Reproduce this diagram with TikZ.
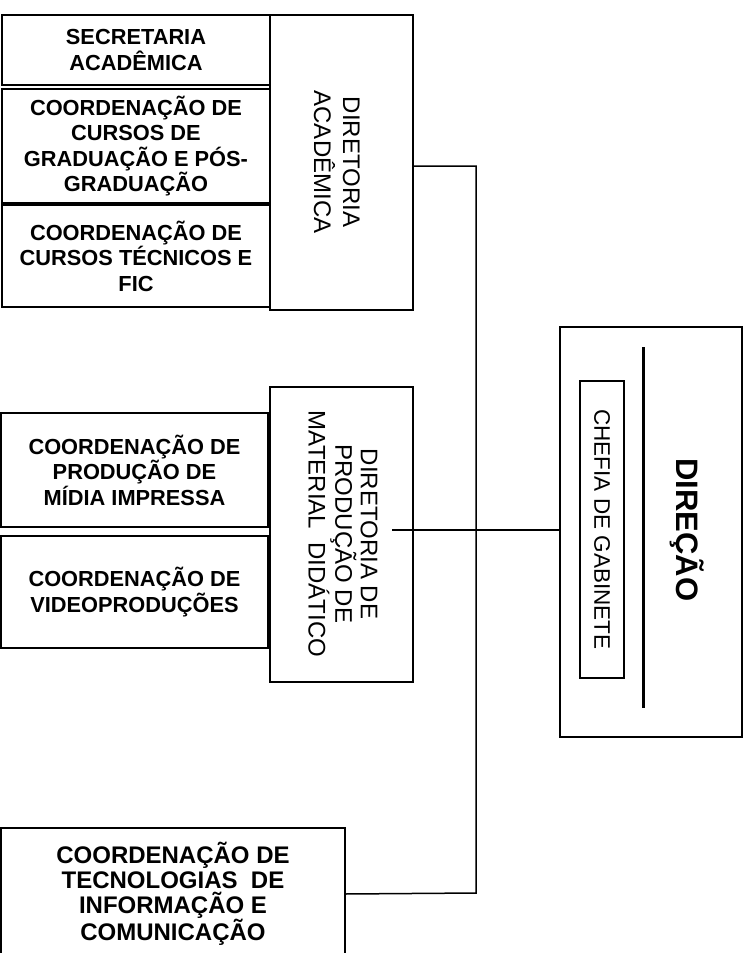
\documentclass[tikz,border=0pt]{standalone}
\usepackage{fontspec}
\setmainfont{Liberation Sans}
\begin{document}
\begin{tikzpicture}[x=1pt,y=-1pt,
  box/.style={draw=black,line width=1.6pt,inner sep=0pt,outer sep=0pt,rectangle},
  unit/.style={font=\fontsize{21.8}{25.5}\selectfont\bfseries,align=center,inner sep=0pt},
  vtext/.style={rotate=-90,align=center,inner sep=0pt},
  conn/.style={draw=black,line width=1.5pt}]
\useasboundingbox (0,0) rectangle (747,953);
\fill[white] (0,0) rectangle (747,953);
% left column boxes
\node[box,minimum width=268pt,minimum height=70pt] (sec) at (136,50) {};
\node[unit] at (sec.center) {SECRETARIA\\ACADÊMICA};
\node[box,minimum width=268pt,minimum height=114pt] (grad) at (136,146) {};
\node[unit] at (grad.center) {COORDENAÇÃO DE\\CURSOS DE\\GRADUAÇÃO E PÓS-\\GRADUAÇÃO};
\node[box,minimum width=268pt,minimum height=102pt] (tec) at (136,256) {};
\node[unit] at (tec.center) {COORDENAÇÃO DE\\CURSOS TÉCNICOS E\\FIC};
\node[box,minimum width=143pt,minimum height=295pt] (da) at (341.5,162.5) {};
\node[vtext,font=\fontsize{24}{29}\selectfont] at (337,162) {DIRETORIA\\ACADÊMICA};
% middle group
\node[box,minimum width=267pt,minimum height=114pt] (midia) at (134.5,470) {};
\node[unit] at (midia.center) {COORDENAÇÃO DE\\PRODUÇÃO DE\\MÍDIA IMPRESSA};
\node[box,minimum width=267pt,minimum height=112pt] (video) at (134.5,592) {};
\node[unit] at (video.center) {COORDENAÇÃO DE\\VIDEOPRODUÇÕES};
\node[box,minimum width=143pt,minimum height=295pt] (dpmd) at (341.5,534.5) {};
\node[vtext,font=\fontsize{24}{25.5}\selectfont] at (343,534) {DIRETORIA DE\\PRODUÇÃO DE\\MATERIAL\ \ DIDÁTICO};
% direção
\node[box,minimum width=182pt,minimum height=410pt] (dir) at (651,532) {};
\node[box,minimum width=44pt,minimum height=297pt] (chefia) at (602,529.5) {};
\node[vtext,font=\fontsize{22.5}{26}\selectfont] at (chefia.center) {CHEFIA DE GABINETE};
\draw[line width=3pt] (643,347) -- (643,708);
\node[vtext,font=\fontsize{31}{36}\selectfont\bfseries] at (687,530) {DIREÇÃO};
% TIC
\node[box,minimum width=344pt,minimum height=132pt] (tic) at (173,894) {};
\node[unit,font=\fontsize{24}{25}\selectfont\bfseries] at (173,894) {COORDENAÇÃO DE\\TECNOLOGIAS\ \ DE\\INFORMAÇÃO E\\COMUNICAÇÃO};
% connectors
\coordinate (bustop) at (476,166);
\coordinate (busbot) at (476,893);
\coordinate (dstart) at (392,530);
\draw[conn] ([yshift=-3.5pt]da.east) -- (bustop) -- (busbot) -- (tic.east);
\draw[conn] (dstart) -- (dir.west |- dstart);
\end{tikzpicture}
\end{document}
